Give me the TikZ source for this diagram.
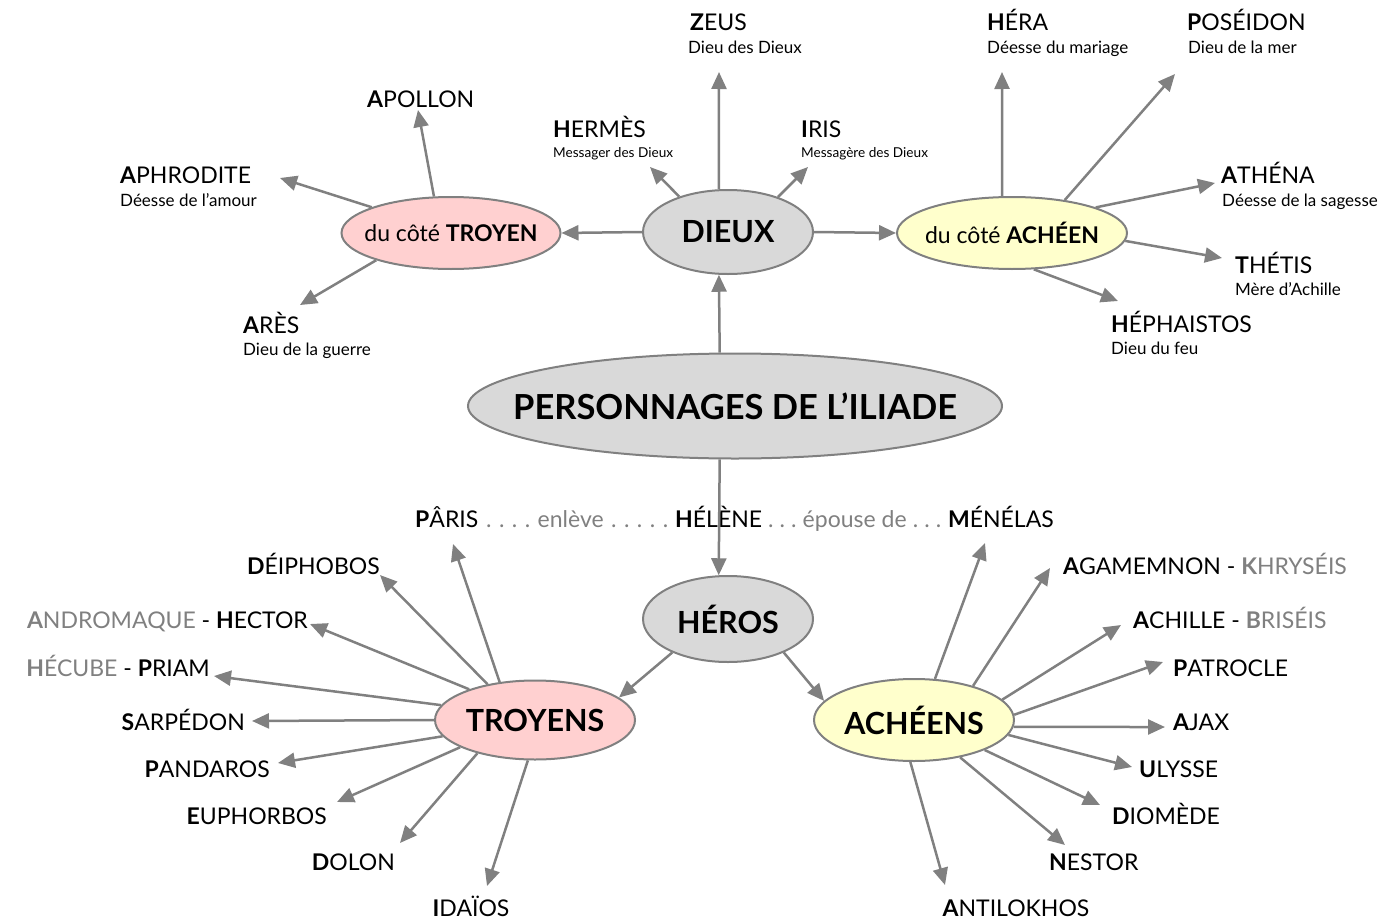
\documentclass[tikz,border=0pt]{standalone}
\usepackage{fontspec}
\setmainfont{Lato}
\usetikzlibrary{arrows.meta,shapes.geometric}
\definecolor{lg}{RGB}{128,128,128}
\definecolor{fillgray}{RGB}{217,217,217}
\definecolor{fillpink}{RGB}{255,208,208}
\definecolor{fillyellow}{RGB}{255,255,204}
\newcommand{\nm}[2]{{\bfseries #1}#2}
\newcommand{\dd}{.\hfill}
\tikzset{
  hub/.style={ellipse, draw=lg, line width=2pt, inner sep=0pt},
  arr/.style={draw=lg, line width=2.5pt, -{Triangle[length=17pt,width=15pt]}},
  lab/.style={font=\fontsize{23}{26}\selectfont, inner sep=0pt},
  sub/.style={font=\fontsize{17}{20}\selectfont, inner sep=0pt},
  small/.style={font=\fontsize{13.6}{16}\selectfont, inner sep=0pt},
  title/.style={font=\fontsize{30.5}{34}\selectfont\bfseries, inner sep=0pt},
  side/.style={font=\fontsize{23}{26}\selectfont, inner sep=0pt},
}
\begin{document}
\begin{tikzpicture}[x=1pt,y=-1pt]
\useasboundingbox (0,0) rectangle (1393,921);
% ellipses
\node[hub, fill=fillgray, minimum width=534pt, minimum height=105pt] (perso) at (735,406) {};
\node[font=\fontsize{34.5}{38}\selectfont\bfseries, inner sep=0pt] (persot) at (perso) {PERSONNAGES DE L’ILIADE};
\node[hub, fill=fillgray, minimum width=170pt, minimum height=84pt] (dieux) at (728,232) {};
\node[title] (dieuxt) at (dieux) {DIEUX};
\node[hub, fill=fillpink, minimum width=219pt, minimum height=72pt] (troyen) at (451,233) {};
\node[side] (troyent) at (troyen) {du côté \textbf{TROYEN}};
\node[hub, fill=fillyellow, minimum width=230pt, minimum height=72pt] (acheen) at (1012,233) {};
\node[side] (acheent) at (acheen) {du côté \textbf{ACHÉEN}};
\node[hub, fill=fillgray, minimum width=170pt, minimum height=86pt] (heros) at (728,619) {};
\node[title] (herost) at (heros) {HÉROS};
\node[hub, fill=fillpink, minimum width=200pt, minimum height=79pt] (troyens) at (535,720) {};
\node[title] (troyenst) at (troyens) {TROYENS};
\node[hub, fill=fillyellow, minimum width=200pt, minimum height=82pt] (acheens) at (914,720) {};
\node[title] (acheenst) at (acheens) {ACHÉENS};

% gods labels
\node[lab, anchor=base west] (zeus) at (690,30) {\nm{Z}{EUS}};
\node[sub, anchor=base west] (zeusd) at (688,53) {Dieu des Dieux};
\node[lab, anchor=base west] (hermes) at (553,137) {\nm{H}{ERMÈS}};
\node[small, anchor=base west] (hermesd) at (553,157) {Messager des Dieux};
\node[lab, anchor=base west] (iris) at (801,137) {\nm{I}{RIS}};
\node[small, anchor=base west] (irisd) at (801,157) {Messagère des Dieux};
\node[lab, anchor=base west] (apollon) at (367,107) {\nm{A}{POLLON}};
\node[lab, anchor=base west] (aphro) at (120,183) {\nm{A}{PHRODITE}};
\node[sub, anchor=base west] (aphrod) at (120,206) {Déesse de l’amour};
\node[lab, anchor=base west] (ares) at (243,333) {\nm{A}{RÈS}};
\node[sub, anchor=base west] (aresd) at (243,355) {Dieu de la guerre};
\node[lab, anchor=base west] (hera) at (987,30) {\nm{H}{ÉRA}};
\node[sub, anchor=base west] (herad) at (987,53) {Déesse du mariage};
\node[lab, anchor=base west] (poseidon) at (1187,30) {\nm{P}{OSÉIDON}};
\node[sub, anchor=base west] (poseidond) at (1188,53) {Dieu de la mer};
\node[lab, anchor=base west] (athena) at (1221,183) {\nm{A}{THÉNA}};
\node[sub, anchor=base west] (athenad) at (1222,206) {Déesse de la sagesse};
\node[lab, anchor=base west] (thetis) at (1235,273) {\nm{T}{HÉTIS}};
\node[sub, anchor=base west] (thetisd) at (1235,295) {Mère d’Achille};
\node[lab, anchor=base west] (hepha) at (1111,332) {\nm{H}{ÉPHAISTOS}};
\node[sub, anchor=base west] (hephad) at (1111,354) {Dieu du feu};

% Paris line
\node[lab, anchor=base west] (paris) at (415,527) {\nm{P}{ÂRIS}};
\node[lab, text=lg, anchor=base west] (enleve) at (486,527) {\makebox[182pt][l]{\dd\dd\dd\dd enlève\hfill\dd\dd\dd\dd.}};
\node[lab, anchor=base west] (helene) at (675,527) {\nm{H}{ÉLÈNE}};
\node[lab, text=lg, anchor=base west] (epouse) at (768,527) {\makebox[173pt][l]{\dd\dd\dd épouse de\hfill\dd\dd.}};
\node[lab, anchor=base east] (menelas) at (1054,527) {\nm{M}{ÉNÉLAS}};

% Trojans
\node[lab, anchor=base east] (deiphobos) at (380,574) {\nm{D}{ÉIPHOBOS}};
\node[lab, anchor=base east] (hector) at (308,628) {{\color{lg}\nm{A}{NDROMAQUE}} - \nm{H}{ECTOR}};
\node[lab, anchor=base east] (priam) at (210,676) {{\color{lg}\nm{H}{ÉCUBE}} - \nm{P}{RIAM}};
\node[lab, anchor=base east] (sarpedon) at (245,730) {\nm{S}{ARPÉDON}};
\node[lab, anchor=base east] (pandaros) at (270,777) {\nm{P}{ANDAROS}};
\node[lab, anchor=base east] (euphorbos) at (327,824) {\nm{E}{UPHORBOS}};
\node[lab, anchor=base east] (dolon) at (395,870) {\nm{D}{OLON}};
\node[lab, anchor=base] (idaios) at (471,916) {\nm{I}{DAÏOS}};

% Achaeans
\node[lab, anchor=base west] (agamemnon) at (1063,574) {\nm{A}{GAMEMNON} - {\color{lg}\nm{K}{HRYSÉIS}}};
\node[lab, anchor=base west] (achille) at (1133,628) {\nm{A}{CHILLE} - {\color{lg}\nm{B}{RISÉIS}}};
\node[lab, anchor=base west] (patrocle) at (1173,676) {\nm{P}{ATROCLE}};
\node[lab, anchor=base west] (ajax) at (1173,730) {\nm{A}{JAX}};
\node[lab, anchor=base west] (ulysse) at (1139,777) {\nm{U}{LYSSE}};
\node[lab, anchor=base west] (diomede) at (1112,824) {\nm{D}{IOMÈDE}};
\node[lab, anchor=base west] (nestor) at (1049,870) {\nm{N}{ESTOR}};
\node[lab, anchor=base] (antilokhos) at (1016,916) {\nm{A}{NTILOKHOS}};

% arrow tips
\coordinate (tZeus) at (719,72);
\coordinate (tHermes) at (650,167);
\coordinate (tIris) at (808,167);
\coordinate (tApollon) at (418,110);
\coordinate (tAphro) at (280,178);
\coordinate (tAres) at (300,305);
\coordinate (tHera) at (1002,72);
\coordinate (tPoseidon) at (1175,74);
\coordinate (tAthena) at (1215,183);
\coordinate (tThetis) at (1222,258);
\coordinate (tHepha) at (1118,301);
\coordinate (tParis) at (453,544);
\coordinate (tDeiphobos) at (380,575);
\coordinate (tHector) at (310,624);
\coordinate (tPriam) at (214,676);
\coordinate (tSarpedon) at (252,721);
\coordinate (tPandaros) at (278,763);
\coordinate (tEuphorbos) at (337,802);
\coordinate (tDolon) at (400,843);
\coordinate (tIdaios) at (487,886);
\coordinate (tMenelas) at (985,543);
\coordinate (tAgamemnon) at (1050,568);
\coordinate (tAchille) at (1121,625);
\coordinate (tPatrocle) at (1163,662);
\coordinate (tAjax) at (1165,727);
\coordinate (tUlysse) at (1132,767);
\coordinate (tDiomede) at (1100,805);
\coordinate (tNestor) at (1065,845);
\coordinate (tAntilokhos) at (945,885);

% connectors
\draw[arr] (perso.106) -- (dieux.258);
\draw[arr] (perso.254) -- (heros.102);
\draw[arr] (dieux.102) -- (tZeus);
\draw[arr] (dieux.144) -- (tHermes);
\draw[arr] (dieux.35) -- (tIris);
\draw[arr] (dieux.west) -- (troyen.east);
\draw[arr] (dieux.east) -- (acheen.west);
\draw[arr] (troyen.115) -- (tApollon);
\draw[arr] (troyen.162) -- (tAphro);
\draw[arr] (troyen.200) -- (tAres);
\draw[arr] (acheen.105) -- (tHera);
\draw[arr] (acheen.32) -- (tPoseidon);
\draw[arr] (acheen.17) -- (tAthena);
\draw[arr] (acheen.-4) -- (tThetis);
\draw[arr] (acheen.-59) -- (tHepha);
\draw[arr] (heros.211) -- (troyens.15);
\draw[arr] (heros.-31) -- (acheens.168);
\draw[arr] (troyens.133) -- (tParis);
\draw[arr] (troyens.143) -- (tDeiphobos);
\draw[arr] (troyens.155) -- (tHector);
\draw[arr] (troyens.171) -- (tPriam);
\draw[arr] (troyens.180) -- (tSarpedon);
\draw[arr] (troyens.190) -- (tPandaros);
\draw[arr] (troyens.200) -- (tEuphorbos);
\draw[arr] (troyens.210) -- (tDolon);
\draw[arr] (troyens.260) -- (tIdaios);
\draw[arr] (acheens.63) -- (tMenelas);
\draw[arr] (acheens.30) -- (tAgamemnon);
\draw[arr] (acheens.13) -- (tAchille);
\draw[arr] (acheens.3) -- (tPatrocle);
\draw[arr] (acheens.-4) -- (tAjax);
\draw[arr] (acheens.-9) -- (tUlysse);
\draw[arr] (acheens.-23) -- (tDiomede);
\draw[arr] (acheens.-39) -- (tNestor);
\draw[arr] (acheens.-95) -- (tAntilokhos);
\end{tikzpicture}
\end{document}
